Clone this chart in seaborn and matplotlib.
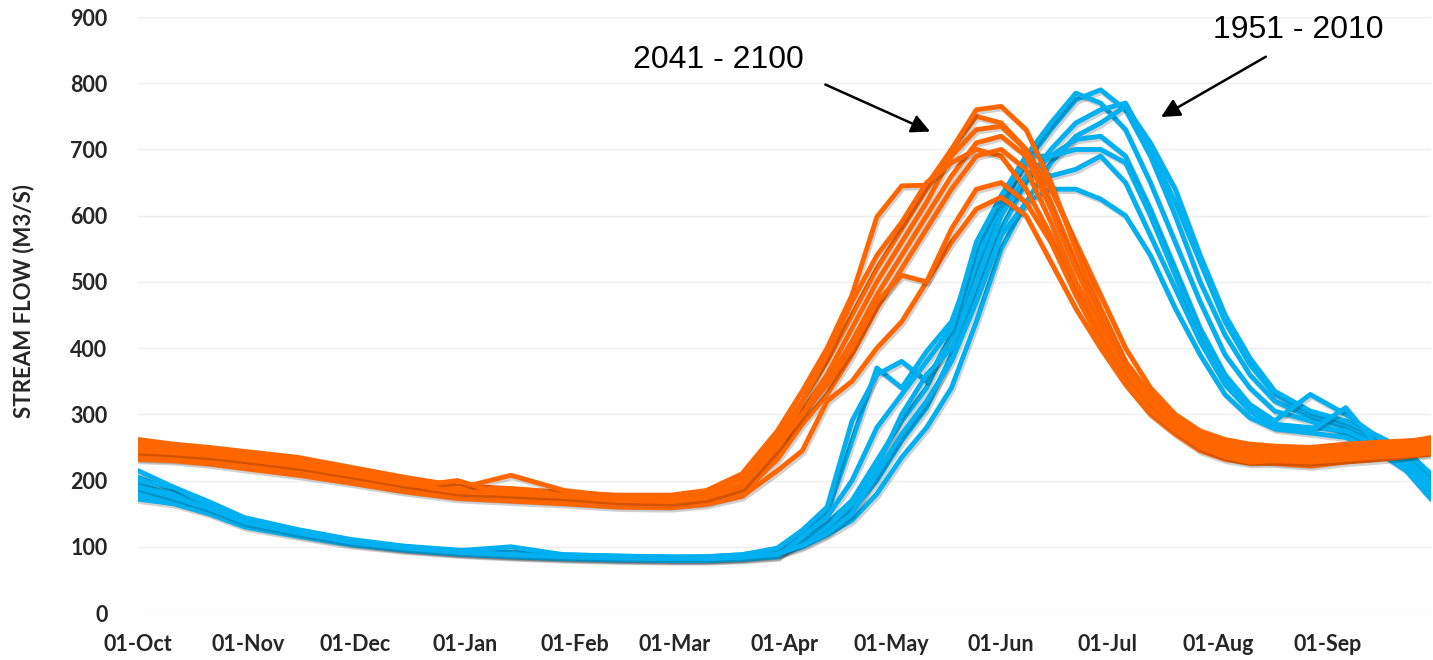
import numpy as np
import pandas as pd
import matplotlib
matplotlib.use("Agg")
import matplotlib.pyplot as plt
import matplotlib.patheffects as pe
import seaborn as sns

# ---- data (days since 01-Oct, stream flow m3/s) ----
days = [0, 10, 20, 30, 45, 60, 75, 90, 105, 120, 135, 150, 160, 170, 180,
        187, 194, 201, 208, 215, 222, 229, 236, 243, 250, 257, 264, 271,
        278, 285, 292, 299, 306, 313, 320, 330, 340, 350, 357, 364]

hist_1 = [205, 185, 165, 142, 125, 110, 100, 94, 90, 87, 85, 84, 84, 86, 92,
          110, 135, 170, 230, 290, 340, 420, 520, 610, 680, 730, 775, 790,
          760, 690, 600, 500, 420, 360, 320, 295, 280, 255, 235, 200]
hist_2 = [215, 190, 168, 144, 126, 111, 101, 95, 92, 88, 86, 85, 85, 88, 96,
          120, 150, 260, 370, 340, 395, 440, 540, 630, 690, 740, 785, 770,
          730, 650, 560, 470, 390, 340, 305, 290, 270, 250, 225, 190]
hist_3 = [195, 178, 160, 138, 122, 108, 99, 93, 89, 86, 84, 83, 83, 85, 90,
          105, 125, 155, 200, 260, 310, 390, 480, 580, 650, 700, 740, 760,
          770, 700, 620, 530, 440, 375, 330, 300, 285, 260, 240, 205]
hist_4 = [185, 172, 156, 135, 120, 106, 97, 91, 87, 84, 82, 81, 81, 83, 88,
          100, 118, 140, 180, 235, 280, 340, 440, 550, 620, 680, 720, 740,
          765, 710, 640, 540, 450, 385, 335, 305, 290, 265, 245, 210]
hist_5 = [200, 190, 163, 140, 124, 109, 100, 94, 100, 88, 86, 84, 85, 88, 98,
          125, 160, 290, 360, 380, 350, 420, 530, 620, 690, 690, 715, 720,
          690, 610, 520, 430, 360, 315, 290, 330, 300, 262, 235, 195]
hist_6 = [178, 168, 152, 133, 118, 105, 96, 90, 86, 83, 81, 80, 80, 82, 86,
          108, 130, 165, 220, 300, 360, 400, 500, 600, 660, 690, 700, 700,
          680, 600, 510, 420, 355, 310, 285, 280, 275, 250, 225, 185]
hist_7 = [172, 165, 150, 130, 116, 103, 95, 89, 85, 82, 80, 79, 79, 81, 85,
          115, 145, 200, 280, 330, 380, 430, 560, 630, 680, 660, 670, 690,
          650, 570, 490, 410, 345, 305, 280, 275, 310, 245, 220, 178]
hist_8 = [190, 175, 158, 137, 121, 107, 98, 92, 88, 85, 83, 82, 82, 84, 89,
          102, 120, 150, 210, 270, 320, 380, 470, 570, 620, 640, 640, 625,
          600, 540, 460, 390, 330, 295, 278, 272, 265, 240, 215, 172]

fut_1 = [262, 255, 250, 244, 235, 220, 205, 192, 188, 182, 178, 178, 185, 210, 275,
         335, 400, 480, 598, 645, 646, 700, 750, 740,
         700, 640, 560, 480, 400, 340, 300, 275, 262, 255, 252, 250, 255, 258, 260, 262]
fut_2 = [255, 250, 243, 238, 228, 215, 200, 188, 208, 185, 176, 175, 182, 202, 265,
         320, 380, 450, 520, 580, 640, 700, 760, 765,
         730, 650, 550, 460, 380, 330, 295, 270, 258, 250, 248, 245, 250, 255, 258, 265]
fut_3 = [248, 245, 240, 235, 225, 212, 197, 185, 182, 178, 172, 170, 176, 194, 255,
         305, 360, 430, 500, 560, 620, 690, 730, 735,
         700, 620, 530, 450, 375, 325, 290, 265, 252, 245, 242, 240, 245, 250, 255, 258]
fut_4 = [242, 240, 235, 230, 220, 207, 193, 181, 178, 174, 168, 166, 172, 188, 245,
         295, 350, 410, 480, 540, 600, 660, 710, 720,
         690, 610, 520, 440, 370, 320, 285, 262, 248, 240, 238, 236, 240, 246, 250, 252]
fut_5 = [238, 236, 232, 226, 216, 203, 190, 200, 175, 170, 165, 164, 170, 185, 240,
         320, 390, 470, 540, 590, 650, 680, 700, 690,
         640, 570, 490, 420, 360, 315, 280, 258, 245, 238, 232, 235, 238, 242, 246, 248]
fut_6 = [234, 232, 228, 222, 212, 199, 186, 176, 172, 168, 163, 162, 167, 180, 232,
         285, 330, 390, 460, 520, 580, 640, 690, 700,
         670, 590, 500, 430, 365, 318, 282, 255, 240, 232, 228, 225, 232, 238, 242, 245]
fut_7 = [232, 230, 225, 218, 208, 196, 183, 173, 169, 165, 160, 159, 164, 176, 215,
         245, 320, 350, 400, 440, 500, 560, 610, 628,
         600, 530, 460, 400, 345, 300, 270, 245, 232, 226, 226, 222, 228, 232, 236, 240]
fut_8 = [245, 242, 238, 232, 222, 209, 195, 183, 180, 176, 170, 168, 174, 190, 250,
         300, 345, 400, 470, 510, 500, 580, 640, 650,
         620, 560, 480, 410, 350, 305, 275, 250, 236, 228, 230, 228, 232, 236, 238, 242]

hist_series = [hist_1, hist_2, hist_3, hist_4, hist_5, hist_6, hist_7, hist_8]
fut_series = [fut_1, fut_2, fut_3, fut_4, fut_5, fut_6, fut_7, fut_8]

month_labels = ["01-Oct", "01-Nov", "01-Dec", "01-Jan", "01-Feb", "01-Mar",
                "01-Apr", "01-May", "01-Jun", "01-Jul", "01-Aug", "01-Sep"]
month_days = [0, 31, 61, 92, 123, 151, 182, 212, 243, 273, 304, 335]
y_ticks = [0, 100, 200, 300, 400, 500, 600, 700, 800, 900]

# ---- build long table ----
rows = []
for period, series in (("1951 - 2010", hist_series), ("2041 - 2100", fut_series)):
    for m, vals in enumerate(series):
        for d, v in zip(days, vals):
            rows.append({"period": period, "member": f"{period}-{m}", "day": d, "flow": v})
df = pd.DataFrame(rows)

sns.set_theme(style="white")
plt.rcParams["font.family"] = ["Lato", "DejaVu Sans"]

fig = plt.figure(figsize=(14.33, 6.6), dpi=100)
ax = fig.add_axes([138 / 1433, 1 - 613 / 660, (1431 - 138) / 1433, (613 - 17) / 660])

sns.lineplot(data=df, x="day", y="flow", hue="period", units="member",
             estimator=None, sort=False, legend=False,
             hue_order=["1951 - 2010", "2041 - 2100"],
             palette={"1951 - 2010": "#00B0F0", "2041 - 2100": "#FF6600"},
             lw=3.5, ax=ax)

for ln in ax.lines:
    ln.set_solid_joinstyle("round")
    ln.set_solid_capstyle("round")
    ln.set_path_effects([pe.SimpleLineShadow(offset=(1.2, -1.8), shadow_color="black", alpha=0.18),
                         pe.Normal()])

ax.set_xlim(0, 364)
ax.set_ylim(0, 900)
ax.set_yticks(y_ticks)
ax.set_xticks(month_days)
ax.set_xticklabels(month_labels)
ax.grid(axis="y", color="#EFEFEF", lw=1.0)
ax.set_axisbelow(True)
for s in ax.spines.values():
    s.set_visible(False)
ax.tick_params(axis="both", length=0, labelsize=15.5, colors="#262626")
ax.tick_params(axis="x", pad=15)
ax.tick_params(axis="y", pad=22)
for lab in ax.get_xticklabels() + ax.get_yticklabels():
    lab.set_fontweight("bold")
ax.set_xlabel("")
ax.set_ylabel("")

fig.text(24 / 1433, 1 - 301 / 660, "STREAM FLOW (M3/S)", rotation=90,
         ha="center", va="center", fontsize=16, fontweight="bold", color="#262626")

ann_font = ["Liberation Sans", "DejaVu Sans"]
ax.text(163.4, 835, "2041 - 2100", ha="center", va="center", fontsize=23,
        family=ann_font, color="black")
ax.text(326.5, 881, "1951 - 2010", ha="center", va="center", fontsize=23,
        family=ann_font, color="black", clip_on=False)
arrow = dict(arrowstyle="-|>", color="black", lw=1.8, mutation_scale=28,
             shrinkA=0, shrinkB=0)
ax.annotate("", xy=(223, 727), xytext=(193.5, 798), arrowprops=arrow)
ax.annotate("", xy=(288, 749), xytext=(317.5, 840), arrowprops=arrow)

fig.savefig("out.png", dpi=100, facecolor="white")
